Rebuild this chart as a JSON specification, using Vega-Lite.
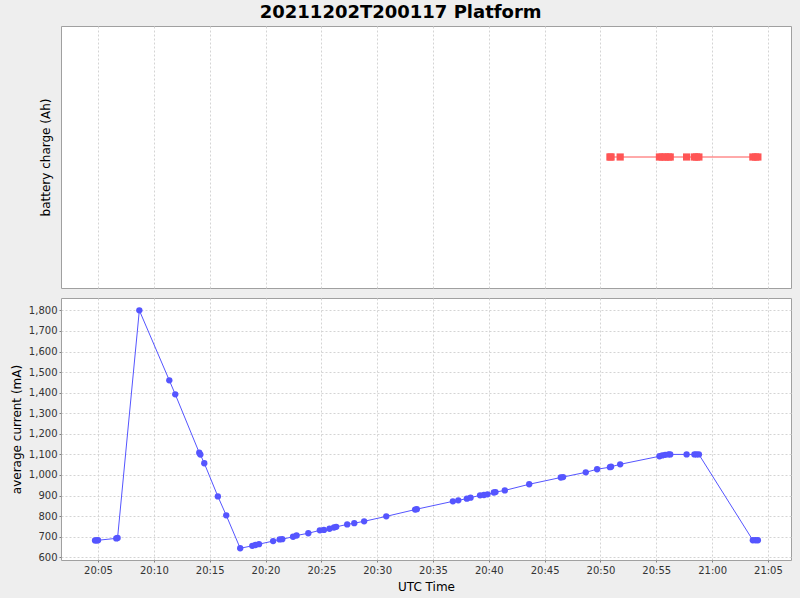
{
  "$schema": "https://vega.github.io/schema/vega-lite/v6.json",
  "background": "#eeeeee",
  "padding": {"left": 9, "top": 3, "right": 8, "bottom": 5},
  "title": {
    "text": "20211202T200117 Platform",
    "font": "DejaVu Sans",
    "fontSize": 18,
    "fontWeight": "bold",
    "color": "#000000",
    "anchor": "middle",
    "offset": 4
  },
  "datasets": {
    "current": [
      {"time": "2021-12-02T20:04:44Z", "current": 682},
      {"time": "2021-12-02T20:04:51Z", "current": 682},
      {"time": "2021-12-02T20:05:00Z", "current": 683},
      {"time": "2021-12-02T20:06:38Z", "current": 692},
      {"time": "2021-12-02T20:06:45Z", "current": 694},
      {"time": "2021-12-02T20:08:42Z", "current": 1800},
      {"time": "2021-12-02T20:11:23Z", "current": 1460},
      {"time": "2021-12-02T20:11:55Z", "current": 1392},
      {"time": "2021-12-02T20:14:04Z", "current": 1108},
      {"time": "2021-12-02T20:14:10Z", "current": 1099},
      {"time": "2021-12-02T20:14:31Z", "current": 1057},
      {"time": "2021-12-02T20:15:44Z", "current": 896},
      {"time": "2021-12-02T20:16:29Z", "current": 804},
      {"time": "2021-12-02T20:17:44Z", "current": 644},
      {"time": "2021-12-02T20:18:49Z", "current": 656},
      {"time": "2021-12-02T20:19:06Z", "current": 660},
      {"time": "2021-12-02T20:19:25Z", "current": 664},
      {"time": "2021-12-02T20:20:41Z", "current": 679},
      {"time": "2021-12-02T20:21:16Z", "current": 687},
      {"time": "2021-12-02T20:21:30Z", "current": 688},
      {"time": "2021-12-02T20:22:28Z", "current": 700},
      {"time": "2021-12-02T20:22:47Z", "current": 706},
      {"time": "2021-12-02T20:23:50Z", "current": 717},
      {"time": "2021-12-02T20:24:52Z", "current": 731},
      {"time": "2021-12-02T20:25:14Z", "current": 733},
      {"time": "2021-12-02T20:25:44Z", "current": 739},
      {"time": "2021-12-02T20:26:08Z", "current": 745},
      {"time": "2021-12-02T20:26:20Z", "current": 748},
      {"time": "2021-12-02T20:27:19Z", "current": 760},
      {"time": "2021-12-02T20:27:57Z", "current": 766},
      {"time": "2021-12-02T20:28:50Z", "current": 775},
      {"time": "2021-12-02T20:30:49Z", "current": 799},
      {"time": "2021-12-02T20:33:24Z", "current": 832},
      {"time": "2021-12-02T20:33:33Z", "current": 834},
      {"time": "2021-12-02T20:36:47Z", "current": 872},
      {"time": "2021-12-02T20:37:16Z", "current": 877},
      {"time": "2021-12-02T20:38:02Z", "current": 885},
      {"time": "2021-12-02T20:38:22Z", "current": 890},
      {"time": "2021-12-02T20:39:13Z", "current": 901},
      {"time": "2021-12-02T20:39:34Z", "current": 903},
      {"time": "2021-12-02T20:39:53Z", "current": 906},
      {"time": "2021-12-02T20:40:27Z", "current": 915},
      {"time": "2021-12-02T20:40:36Z", "current": 917},
      {"time": "2021-12-02T20:41:26Z", "current": 925},
      {"time": "2021-12-02T20:43:37Z", "current": 955},
      {"time": "2021-12-02T20:46:27Z", "current": 988},
      {"time": "2021-12-02T20:46:39Z", "current": 990},
      {"time": "2021-12-02T20:48:41Z", "current": 1013},
      {"time": "2021-12-02T20:49:42Z", "current": 1028},
      {"time": "2021-12-02T20:50:51Z", "current": 1038},
      {"time": "2021-12-02T20:50:57Z", "current": 1040},
      {"time": "2021-12-02T20:51:46Z", "current": 1052},
      {"time": "2021-12-02T20:55:17Z", "current": 1091},
      {"time": "2021-12-02T20:55:32Z", "current": 1095},
      {"time": "2021-12-02T20:55:48Z", "current": 1098},
      {"time": "2021-12-02T20:56:06Z", "current": 1100},
      {"time": "2021-12-02T20:56:15Z", "current": 1100},
      {"time": "2021-12-02T20:57:43Z", "current": 1100},
      {"time": "2021-12-02T20:58:25Z", "current": 1100},
      {"time": "2021-12-02T20:58:36Z", "current": 1100},
      {"time": "2021-12-02T20:58:49Z", "current": 1100},
      {"time": "2021-12-02T21:03:39Z", "current": 683},
      {"time": "2021-12-02T21:03:54Z", "current": 683},
      {"time": "2021-12-02T21:04:06Z", "current": 683}
    ],
    "charge": [
      {"time": "2021-12-02T20:50:51Z", "charge": 0},
      {"time": "2021-12-02T20:50:57Z", "charge": 0},
      {"time": "2021-12-02T20:51:46Z", "charge": 0},
      {"time": "2021-12-02T20:55:17Z", "charge": 0},
      {"time": "2021-12-02T20:55:32Z", "charge": 0},
      {"time": "2021-12-02T20:55:48Z", "charge": 0},
      {"time": "2021-12-02T20:56:06Z", "charge": 0},
      {"time": "2021-12-02T20:56:15Z", "charge": 0},
      {"time": "2021-12-02T20:57:43Z", "charge": 0},
      {"time": "2021-12-02T20:58:25Z", "charge": 0},
      {"time": "2021-12-02T20:58:36Z", "charge": 0},
      {"time": "2021-12-02T20:58:49Z", "charge": 0},
      {"time": "2021-12-02T21:03:39Z", "charge": 0},
      {"time": "2021-12-02T21:03:54Z", "charge": 0},
      {"time": "2021-12-02T21:04:06Z", "charge": 0}
    ]
  },
  "vconcat": [
    {
      "width": 730,
      "height": 262,
      "data": {"name": "charge"},
      "layer": [
        {
          "mark": {"type": "line", "color": "#ff5555", "strokeWidth": 1},
          "encoding": {
            "x": {
              "field": "time",
              "type": "temporal",
              "scale": {"type": "utc", "domain": [1638475301000, 1638479224000]},
              "axis": {
                "title": null,
                "labels": false,
                "ticks": false,
                "grid": true,
                "values": [1638475500000, 1638475800000, 1638476100000, 1638476400000, 1638476700000, 1638477000000, 1638477300000, 1638477600000, 1638477900000, 1638478200000, 1638478500000, 1638478800000, 1638479100000]
              }
            },
            "y": {
              "field": "charge",
              "type": "quantitative",
              "scale": {"domain": [-1, 1], "nice": false},
              "axis": {"title": "battery charge (Ah)", "labels": false, "ticks": false, "grid": false, "titlePadding": 9}
            }
          }
        },
        {
          "mark": {"type": "square", "color": "#ff5555", "filled": true, "opacity": 1, "size": 52},
          "encoding": {
            "x": {"field": "time", "type": "temporal"},
            "y": {"field": "charge", "type": "quantitative"}
          }
        }
      ]
    },
    {
      "width": 730,
      "height": 262,
      "data": {"name": "current"},
      "layer": [
        {
          "mark": {"type": "line", "color": "#5555ff", "strokeWidth": 1},
          "encoding": {
            "x": {
              "field": "time",
              "type": "temporal",
              "scale": {"type": "utc", "domain": [1638475301000, 1638479224000]},
              "axis": {
                "title": "UTC Time",
                "format": "%H:%M",
                "grid": true,
                "labelPadding": 3,
                "titlePadding": 6,
                "values": [1638475500000, 1638475800000, 1638476100000, 1638476400000, 1638476700000, 1638477000000, 1638477300000, 1638477600000, 1638477900000, 1638478200000, 1638478500000, 1638478800000, 1638479100000]
              }
            },
            "y": {
              "field": "current",
              "type": "quantitative",
              "scale": {"domain": [587, 1860], "nice": false, "zero": false},
              "axis": {
                "title": "average current (mA)",
                "format": ",d",
                "titlePadding": 5,
                "labelOverlap": false,
                "values": [600, 700, 800, 900, 1000, 1100, 1200, 1300, 1400, 1500, 1600, 1700, 1800]
              }
            }
          }
        },
        {
          "mark": {"type": "circle", "color": "#5555ff", "opacity": 1, "size": 40},
          "encoding": {
            "x": {"field": "time", "type": "temporal"},
            "y": {
              "field": "current",
              "type": "quantitative",
              "axis": {
                "title": "average current (mA)",
                "format": ",d",
                "titlePadding": 5,
                "labelOverlap": false,
                "values": [600, 700, 800, 900, 1000, 1100, 1200, 1300, 1400, 1500, 1600, 1700, 1800]
              }
            }
          }
        }
      ]
    }
  ],
  "config": {
    "concat": {"spacing": 8},
    "view": {"fill": "white", "stroke": "#a0a0a0"},
    "axis": {
      "labelFont": "DejaVu Sans",
      "labelFontSize": 10,
      "labelColor": "#333333",
      "labelOverlap": false,
      "titleFont": "DejaVu Sans",
      "titleFontSize": 12,
      "titleFontWeight": "normal",
      "titleColor": "#000000",
      "gridColor": "#d4d4d4",
      "gridDash": [2, 2],
      "tickColor": "#808080",
      "tickSize": 2,
      "labelPadding": 2,
      "domain": false
    }
  }
}
